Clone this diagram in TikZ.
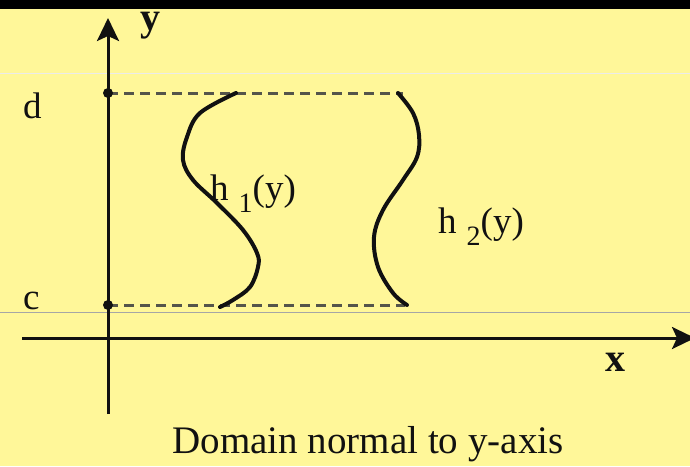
\documentclass[tikz,border=0pt]{standalone}
\usepackage{fontspec}
\setmainfont{Liberation Serif}
\usetikzlibrary{arrows.meta}
\definecolor{paper}{HTML}{FFF799}
\definecolor{ink}{HTML}{111111}
\definecolor{guide}{HTML}{55554A}
\tikzset{fig/.style={line join=round,>={Stealth[length=23pt,width=22pt,inset=5pt]}},
  axis/.style={ink,line width=3pt},
  bound/.style={ink,line width=4pt,line cap=round},
  level/.style={guide,line width=3pt,dash pattern=on 10pt off 6pt},
  lbl/.style={inner sep=0pt,font=\fontsize{37}{40}\selectfont,text=ink}}

\begin{document}
\begin{tikzpicture}[fig,x=1pt,y=-1pt]
  \fill[paper](0,0)rectangle(690,466);
  \fill[black](0,0)rectangle(690,9);
  \useasboundingbox(0,0)rectangle(690,466);
  \draw[black!8,line width=0.6pt](0,73)--(690,73);
  \draw[black!35,line width=0.8pt](0,312)--(690,312);
  % axes
  \coordinate(xl)at(22,338);\coordinate(xr)at(695,338);
  \coordinate(yb)at(108,414);\coordinate(yt)at(108,18);
  \draw[axis,->](xl)--(xr);
  \draw[axis,->](yb)--(yt);
  \node[lbl,anchor=north west,font=\fontsize{40}{44}\selectfont\bfseries](ylab)at(140,12){y};
  \node[lbl,anchor=north west,font=\fontsize{40}{44}\selectfont\bfseries](xlab)at(605,353){x};
  % the levels y=c and y=d
  \coordinate(d)at(108,93);\coordinate(dr)at(403,93);
  \coordinate(c)at(108,305);\coordinate(cr)at(405,305);
  \draw[level](d)--(dr);
  \draw[level](c)--(cr);
  \fill[ink](d)circle(5pt);\fill[ink](c)circle(5pt);
  \node[lbl,anchor=north west](dlab)at(23,93){d};
  \node[lbl,anchor=north west](clab)at(23,292){c};
  % left boundary h1(y)
  \draw[bound]plot[smooth,tension=0.6]coordinates{(236,93)(200,113)(187,137)(183,160)(193,180)(217,203)(243,230)(257,253)(258,267)(250,287)(233,300)(220,307)};
  % right boundary h2(y)
  \draw[bound]plot[smooth,tension=0.6]coordinates{(398,93)(413,113)(419,135)(417,157)(403,180)(383,210)(374,237)(378,267)(393,293)(407,305)};
  \node[lbl,anchor=base west](hone)at(210,200){h\hspace{10pt}\raisebox{-12pt}{\fontsize{28}{28}\selectfont 1}(y)};
  \node[lbl,anchor=base west](htwo)at(438,233){h\hspace{10pt}\raisebox{-12pt}{\fontsize{28}{28}\selectfont 2}(y)};
  \node[lbl,anchor=base,font=\fontsize{39}{42}\selectfont](cap)at(368,453){Domain normal to y-axis};
\end{tikzpicture}
\end{document}
